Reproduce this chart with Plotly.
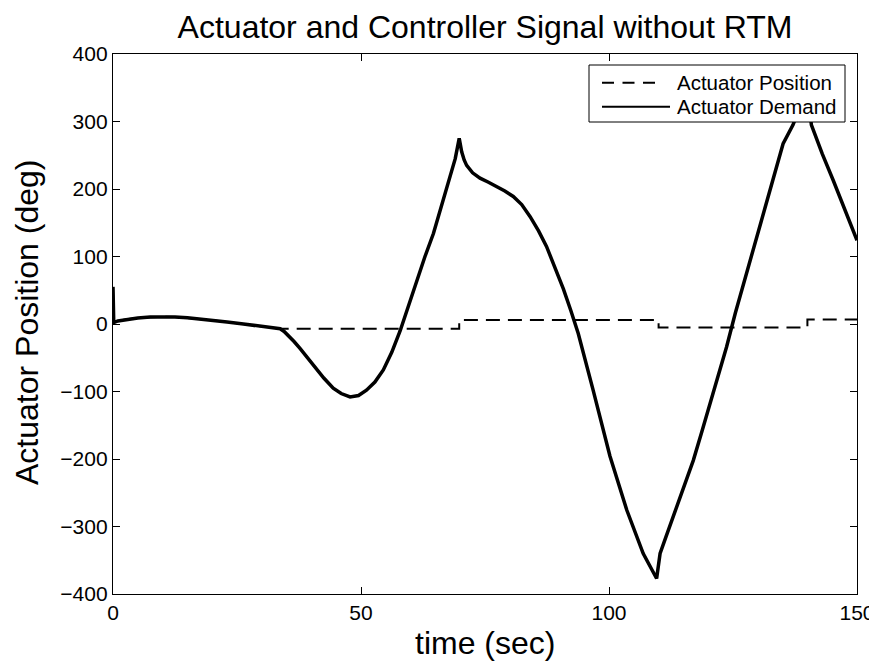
import plotly.graph_objects as go

# Actuator demand (controller signal)
demand_t = [0, 0.15, 1, 2.7, 5, 7.5, 10, 12.5, 15, 17.5, 20, 23, 26.3, 30, 33.7, 34.5, 35.5,
            36.5, 37.7, 39, 40.5, 42.5, 44.4, 46, 47.8, 49.5, 51.1, 52.8, 54.5, 56.2, 57.9,
            59.5, 61.2, 62.9, 64.6, 66.2, 67.9, 69, 69.8, 70.3, 70.8, 71.3, 72.5, 74, 75.7,
            77.4, 79, 80.7, 82.4, 84.1, 85.8, 87.4, 89.1, 90.8, 92.3, 93.8, 96.8, 100.2,
            103.6, 106.9, 109.6, 110.3, 111.5, 113.6, 115.3, 117, 118.7, 120.4, 122, 123.7,
            125.5, 127.4, 129, 131.8, 135.1, 137.1, 140, 140.8, 143, 145.2, 147.5, 150]
demand_v = [55, 2, 4.5, 6.9, 9, 10.3, 10.8, 10.5, 9.2, 7.5, 5.5, 3, 0, -3.5, -7, -11, -18,
            -26, -36, -48, -62, -80, -95, -103, -108, -106, -98, -86, -68, -42, -10,
            25, 65, 100, 134, 175, 218, 245, 275, 255, 243, 235, 224, 216, 210,
            204, 197, 189, 177, 159, 138, 115, 84, 52, 20, -14, -98, -196,
            -276, -340, -377, -340, -315, -271, -236, -202, -160, -118, -76, -34,
            17, 67, 110, 184, 267, 295, 350, 295, 252, 213, 170, 124]

# Actuator position
position_t = [0, 0.15, 1, 2.7, 5, 7.5, 10, 12.5, 15, 17.5, 20, 23, 26.3, 30, 33.7,
              69.8, 69.8, 110, 110, 140, 140, 150]
position_v = [55, 2, 4.5, 6.9, 9, 10.3, 10.8, 10.5, 9.2, 7.5, 5.5, 3, 0, -3.5, -7,
              -7, 6, 6, -5, -5, 6.5, 6.5]

x_ticks = [0, 50, 100, 150]
y_ticks = [-400, -300, -200, -100, 0, 100, 200, 300, 400]

series_names = ["Actuator Position", "Actuator Demand"]

FONT = "Liberation Sans, Arial, sans-serif"

# page offset of the figure inside the browser window (default body margin)
OFF = 8
WIN_W, WIN_H = 877, 664
W, H = WIN_W - OFF, WIN_H - OFF
# plot-area edges in window pixels
L, R, T, B = 113, 857, 54, 594


def px(xp):
    return (xp - L) / (R - L)


def py(yp):
    return (B - yp) / (B - T)


fig = go.Figure()
fig.add_trace(go.Scatter(x=position_t, y=position_v, mode="lines", name=series_names[0],
                         line=dict(color="black", width=2, dash="14px,8px"),
                         showlegend=False))
fig.add_trace(go.Scatter(x=demand_t, y=demand_v, mode="lines", name=series_names[1],
                         line=dict(color="black", width=3.5), showlegend=False))

axis_common = dict(showgrid=False, zeroline=False, showline=True, linecolor="black",
                   linewidth=1.3, mirror="ticks", ticks="inside", ticklen=7,
                   tickwidth=1, tickcolor="black", automargin=False,
                   tickfont=dict(family=FONT, size=21, color="black"))

fig.update_xaxes(range=[0, 150], tickvals=x_ticks, **axis_common)
fig.update_yaxes(range=[-400, 400], tickvals=y_ticks, **axis_common)

# legend drawn as a boxed overlay
shapes = [
    dict(type="rect", xref="paper", yref="paper", x0=px(589), x1=px(845), y0=py(122), y1=py(65),
         fillcolor="white", line=dict(color="black", width=1), layer="above"),
    dict(type="line", xref="paper", yref="paper", x0=px(602), x1=px(656), y0=py(82.7), y1=py(82.7),
         line=dict(color="black", width=2, dash="12px,8.5px"), layer="above"),
    dict(type="line", xref="paper", yref="paper", x0=px(602), x1=px(670), y0=py(106.7), y1=py(106.7),
         line=dict(color="black", width=2), layer="above"),
]
annotations = [
    dict(text=series_names[0], xref="paper", yref="paper", x=px(675), y=py(82.7),
         xanchor="left", yanchor="middle", showarrow=False,
         font=dict(family=FONT, size=20.5, color="black")),
    dict(text=series_names[1], xref="paper", yref="paper", x=px(675), y=py(106.7),
         xanchor="left", yanchor="middle", showarrow=False,
         font=dict(family=FONT, size=20.5, color="black")),
    dict(text="time (sec)", xref="paper", yref="paper", x=0.5, y=py(643),
         xanchor="center", yanchor="middle", showarrow=False,
         font=dict(family=FONT, size=32, color="black")),
    dict(text="Actuator Position (deg)", xref="paper", yref="paper", x=px(27), y=py(322),
         xanchor="center", yanchor="middle", showarrow=False, textangle=-90,
         font=dict(family=FONT, size=32, color="black")),
]

fig.update_layout(
    width=W, height=H,
    margin=dict(l=L - OFF, r=(W + OFF) - R, t=T - OFF, b=(H + OFF) - B),
    paper_bgcolor="white", plot_bgcolor="white",
    title=dict(text="Actuator and Controller Signal without RTM",
               font=dict(family=FONT, size=32, color="black"),
               x=0.5, xanchor="center", xref="paper", y=1 - (27 - OFF) / H, yanchor="middle"),
    shapes=shapes, annotations=annotations,
    showlegend=False,
)

fig.write_html("out.html")
